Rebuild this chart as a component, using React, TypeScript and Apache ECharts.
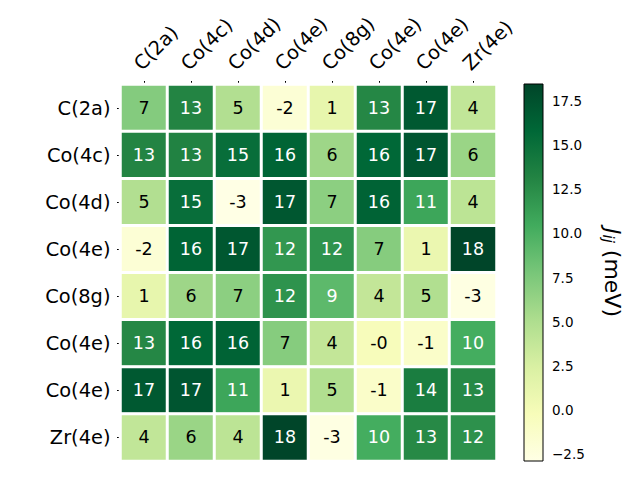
import React, { useEffect, useRef } from "react";
import * as echarts from "echarts";

const colLabels = ["C(2a)", "Co(4c)", "Co(4d)", "Co(4e)", "Co(8g)", "Co(4e)", "Co(4e)", "Zr(4e)"];
const rowLabels = ["C(2a)", "Co(4c)", "Co(4d)", "Co(4e)", "Co(8g)", "Co(4e)", "Co(4e)", "Zr(4e)"];

const row0 = [7.2, 13.1, 4.8, -1.9, 1.2, 12.9, 16.9, 3.9];
const row1 = [13.1, 13.3, 15.2, 16.1, 5.9, 15.8, 17.2, 6.1];
const row2 = [4.8, 15.2, -2.87, 17.1, 6.8, 16.2, 10.8, 4.2];
const row3 = [-1.9, 16.1, 17.1, 11.8, 12.1, 7.1, 0.9, 18.45];
const row4 = [1.2, 5.9, 6.8, 12.1, 9.1, 3.8, 4.9, -2.7];
const row5 = [12.9, 15.8, 16.2, 7.1, 3.8, -0.3, -1.2, 10.3];
const row6 = [16.9, 17.2, 10.8, 0.9, 4.9, -1.2, 13.8, 12.8];
const row7 = [3.9, 6.1, 4.2, 18.45, -2.7, 10.3, 12.8, 12.2];

const colorbarTicks = [-2.5, 0, 2.5, 5, 7.5, 10, 12.5, 15, 17.5];
const ylgn = ["#ffffe5", "#f7fcb9", "#d9f0a3", "#addd8e", "#78c679", "#41ab5d", "#238443", "#006837", "#004529"];

const FONT = "DejaVu Sans";

export default function App() {
  const ref = useRef<HTMLDivElement>(null);
  useEffect(() => {
    if (!ref.current) return;
    const chart = echarts.init(ref.current, null, { renderer: "svg" });
    const rows = [row0, row1, row2, row3, row4, row5, row6, row7];
    let vmin = Infinity;
    let vmax = -Infinity;
    rows.forEach((r) => r.forEach((v) => { vmin = Math.min(vmin, v); vmax = Math.max(vmax, v); }));
    const mid = (vmin + vmax) / 2;
    const data: any[] = [];
    rows.forEach((r, yi) =>
      r.forEach((v, xi) => {
        data.push({
          value: [xi, yi, v],
          label: { color: v > mid ? "#ffffff" : "#000000" },
        });
      })
    );
    const stops = ylgn
      .slice()
      .reverse()
      .map((c, i) => ({ offset: i / (ylgn.length - 1), color: c }));

    chart.setOption({
      animation: false,
      backgroundColor: "#ffffff",
      grid: [
        { left: 120.5, top: 84.5, width: 376, height: 376.5 },
        { left: 524, top: 84, width: 19, height: 377, show: true, borderColor: "#000", borderWidth: 1, backgroundColor: "transparent", z: 3 },
      ],
      xAxis: [
        {
          type: "category",
          data: colLabels,
          position: "top",
          gridIndex: 0,
          axisLine: { show: false },
          axisTick: { show: true, length: 3.5, alignWithLabel: true, lineStyle: { color: "#000" } },
          axisLabel: { rotate: -45, margin: 11, verticalAlign: "bottom", fontSize: 19.4, fontFamily: FONT, color: "#000", interval: 0 },
          splitLine: { show: false },
        },
        { type: "value", gridIndex: 1, min: 0, max: 1, show: false },
      ],
      yAxis: [
        {
          type: "category",
          data: rowLabels,
          inverse: true,
          gridIndex: 0,
          axisLine: { show: false },
          axisTick: { show: true, length: 3.5, alignWithLabel: true, lineStyle: { color: "#000" } },
          axisLabel: { margin: 10, fontSize: 19.4, fontFamily: FONT, color: "#000", interval: 0 },
          splitLine: { show: false },
        },
        {
          type: "value",
          gridIndex: 1,
          position: "right",
          min: vmin,
          max: vmax,
          axisLine: { show: false },
          splitLine: { show: false },
          axisTick: { show: true, length: 3.5, customValues: colorbarTicks, lineStyle: { color: "#000" } },
          axisLabel: {
            customValues: colorbarTicks,
            margin: 9,
            fontSize: 13.5,
            fontFamily: FONT,
            color: "#000",
            formatter: (v: number) => v.toFixed(1).replace("-", "\u2212"),
          },
          name: "{j|J}{s|ij} (meV)",
          nameLocation: "middle",
          nameRotate: -90,
          nameGap: 57,
          nameTextStyle: {
            fontSize: 22,
            fontFamily: FONT,
            color: "#000",
            rich: {
              j: { fontSize: 22, fontStyle: "italic", fontFamily: FONT, color: "#000" },
              s: { fontSize: 15, fontStyle: "italic", fontFamily: FONT, color: "#000", verticalAlign: "bottom", padding: [9, 0, 0, 0] },
            },
          },
        },
      ],
      visualMap: {
        show: false,
        type: "continuous",
        min: vmin,
        max: vmax,
        seriesIndex: 0,
        dimension: 2,
        inRange: { color: ylgn },
      },
      series: [
        {
          type: "heatmap",
          xAxisIndex: 0,
          yAxisIndex: 0,
          data,
          itemStyle: { borderColor: "#ffffff", borderWidth: 3 },
          label: {
            show: true,
            fontSize: 17.5,
            fontFamily: FONT,
            formatter: (p: any) => {
              const s = (p.value[2] as number).toFixed(0);
              return s === "0" && p.value[2] < 0 ? "-0" : s;
            },
          },
          emphasis: { disabled: true },
        },
        {
          type: "custom",
          xAxisIndex: 1,
          yAxisIndex: 1,
          silent: true,
          data: [[0, vmin, 1, vmax]],
          renderItem: (params: any, api: any) => {
            const p1 = api.coord([api.value(0), api.value(3)]);
            const p2 = api.coord([api.value(2), api.value(1)]);
            return {
              type: "rect",
              shape: { x: p1[0], y: p1[1], width: p2[0] - p1[0], height: p2[1] - p1[1] },
              style: { fill: new echarts.graphic.LinearGradient(0, 0, 0, 1, stops) },
            };
          },
        },
      ],
    });
    return () => chart.dispose();
  }, []);
  return <div ref={ref} style={{ width: 640, height: 480, position: "absolute", left: 0, top: 0 }} />;
}
